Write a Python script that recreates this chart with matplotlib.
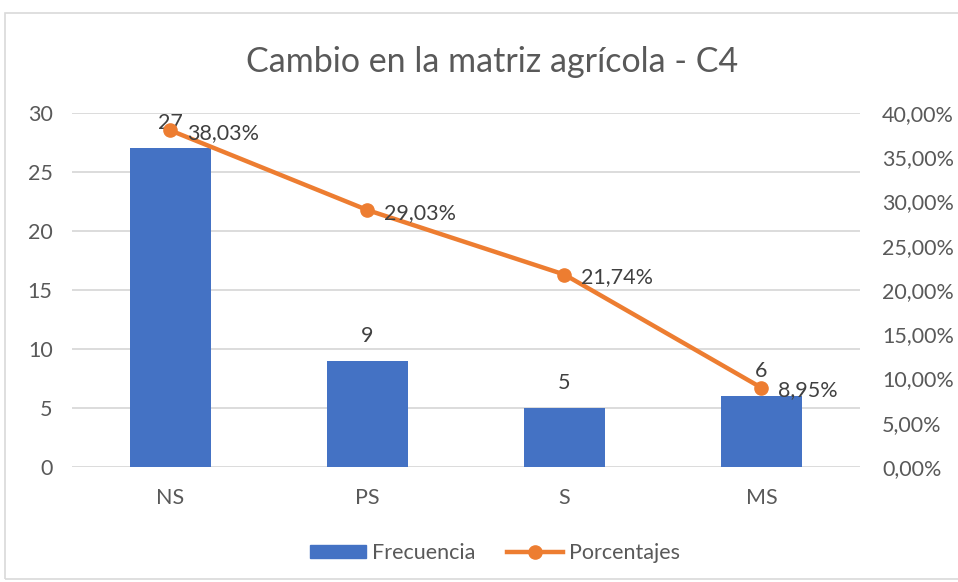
import matplotlib
matplotlib.use('Agg')
import matplotlib.pyplot as plt
from matplotlib.patches import Rectangle
from matplotlib.lines import Line2D
from matplotlib.ticker import FuncFormatter, MultipleLocator

categories = ['NS', 'PS', 'S', 'MS']
frecuencia = [27, 9, 5, 6]
porcentajes = [0.3803, 0.2903, 0.2174, 0.0895]

blue_col = '#4472C4'
orange_col = '#ED7D31'
text_col = '#595959'
grid_col = '#D9D9D9'

plt.rcParams['font.family'] = ['Lato', 'DejaVu Sans']

fig_main = plt.figure(figsize=(9.58, 5.82), dpi=100)

# light chart border like the Excel chart area (cut off on the right)
fig_main.patches.append(Rectangle((5 / 958, 3 / 582), 1.2, 566 / 582, transform=fig_main.transFigure,
                                  fill=False, edgecolor=grid_col, linewidth=1.2))

ax_bars = fig_main.add_axes([72 / 958, 1 - 467 / 582, 788 / 958, 354 / 582])
x_pos = list(range(len(categories)))
ax_bars.bar(x_pos, frecuencia, width=0.41, color=blue_col, zorder=2)
ax_bars.set_xlim(-0.5, 3.5)
ax_bars.set_ylim(0, 30)
ax_bars.yaxis.set_major_locator(MultipleLocator(5))
ax_bars.set_xticks(x_pos)
ax_bars.set_xticklabels(categories)
ax_bars.grid(axis='y', color=grid_col, linewidth=1.3, zorder=0)
ax_bars.set_axisbelow(True)
for side in ['top', 'right', 'left', 'bottom']:
    ax_bars.spines[side].set_visible(False)
ax_bars.tick_params(axis='both', length=0, labelsize=15.5, labelcolor=text_col)
ax_bars.tick_params(axis='y', pad=14)
ax_bars.tick_params(axis='x', pad=15)

for xi, val in zip(x_pos, frecuencia):
    ax_bars.annotate(str(val), (xi, val), xytext=(0, 18), textcoords='offset points',
                     ha='center', va='center', fontsize=15.5, color='#404040', zorder=5)

ax_line = ax_bars.twinx()
ax_line.plot(x_pos, porcentajes, color=orange_col, linewidth=3.2, marker='o', markersize=9.5, zorder=4)
ax_line.set_ylim(0, 0.40)
ax_line.yaxis.set_major_locator(MultipleLocator(0.05))
ax_line.yaxis.set_major_formatter(FuncFormatter(lambda v, p: f'{v * 100:.2f}%'.replace('.', ',')))
for side in ['top', 'right', 'left', 'bottom']:
    ax_line.spines[side].set_visible(False)
ax_line.tick_params(axis='y', length=0, labelsize=15.5, labelcolor=text_col, pad=16)

for xi, val in zip(x_pos, porcentajes):
    ax_line.annotate(f'{val * 100:.2f}%'.replace('.', ','), (xi, val), xytext=(12, -2),
                     textcoords='offset points', ha='left', va='center', fontsize=15.5,
                     color='#404040', zorder=6)

fig_main.text(492 / 958, 1 - 62 / 582, 'Cambio en la matriz agrícola - C4', ha='center', va='center',
              fontsize=24.5, color=text_col)

legend_handles = [Rectangle((0, 0), 1, 1, color=blue_col),
                  Line2D([0], [0], color=orange_col, linewidth=3.2, marker='o', markersize=9.5)]
fig_main.legend(legend_handles, ['Frecuencia', 'Porcentajes'], loc='center',
                bbox_to_anchor=(495 / 958, 1 - 553 / 582), ncol=2, frameon=False, fontsize=15.5,
                labelcolor=text_col, handlelength=2.6, handleheight=0.6, handletextpad=0.25,
                columnspacing=1.5)

fig_main.savefig('out.png', dpi=100)
